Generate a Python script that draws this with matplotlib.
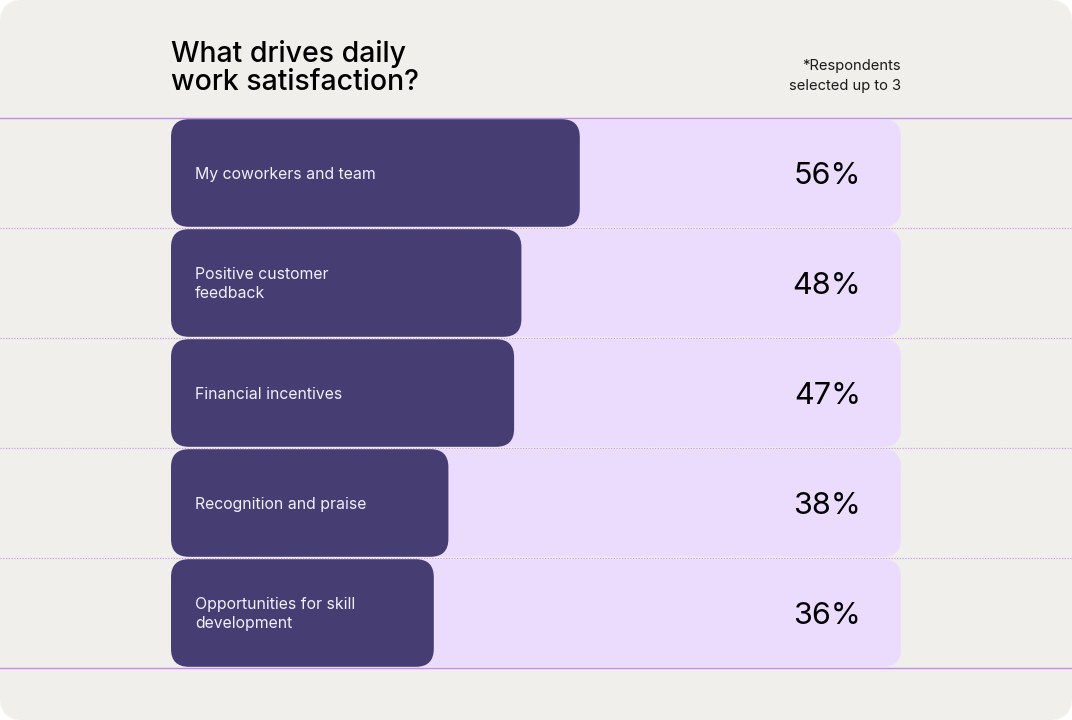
import matplotlib.pyplot as plt
from matplotlib.patches import FancyBboxPatch

categories = ["My coworkers and team", "Positive customer\nfeedback", "Financial incentives",
              "Recognition and praise", "Opportunities for skill\ndevelopment"]
values = [56, 48, 47, 38, 36]
value_labels = ["56%", "48%", "47%", "38%", "36%"]

W, H = 1072, 720
bg = '#f0efeb'
dark = '#463d72'
light = '#ebdcfe'
line_col = '#c58af0'

plt.rcParams['font.family'] = ['Inter', 'DejaVu Sans']

fig = plt.figure(figsize=(W / 100, H / 100), dpi=100)
fig.patch.set_facecolor('white')

# rounded card background
card = FancyBboxPatch((0, 0), 1, 1, boxstyle="round,pad=0,rounding_size=0.021",
                      mutation_aspect=W / H, transform=fig.transFigure,
                      facecolor=bg, edgecolor='none', zorder=0)
fig.patches.append(card)

left, right, top, bottom = 171, 901, 118, 668
n = len(values)
px_x = (right - left) / 100.0
px_y = (bottom - top) / n

# separator lines across the full width
lax = fig.add_axes([0, 0, 1, 1])
lax.set_xlim(0, W)
lax.set_ylim(H, 0)
lax.axis('off')
lax.patch.set_alpha(0)
lax.set_zorder(1)
for k in range(n + 1):
    yy = top + k * px_y
    if k == 0 or k == n:
        lax.axhline(yy, color=line_col, lw=1.0)
    else:
        lax.axhline(yy, color=line_col, lw=0.9, ls=(0, (1, 1.2)), alpha=0.85)

# bar area
ax = fig.add_axes([left / W, 1 - bottom / H, (right - left) / W, (bottom - top) / H])
ax.set_xlim(0, 100)
ax.set_ylim(n, 0)
ax.axis('off')
ax.patch.set_alpha(0)
ax.set_zorder(2)

rad = 18 / px_x
aspect = px_x / px_y
gap = 1.2 / px_y

for i, (cat, v, lab) in enumerate(zip(categories, values, value_labels)):
    y0 = i + gap
    h = 1 - 2 * gap
    ax.add_patch(FancyBboxPatch((0, y0), 100, h, boxstyle=f"round,pad=0,rounding_size={rad}",
                                mutation_aspect=aspect, facecolor=light, edgecolor='none', zorder=1))
    ax.add_patch(FancyBboxPatch((0, y0), v, h, boxstyle=f"round,pad=0,rounding_size={rad}",
                                mutation_aspect=aspect, facecolor=dark, edgecolor='none', zorder=2))
    ax.text(24 / px_x, i + 0.51, cat, color='#f3efff', fontsize=11.4, va='center', ha='left',
            linespacing=1.3, zorder=3)
    ax.text(94.5, i + 0.53, lab, color='black', fontsize=22, va='center', ha='right', zorder=3)

fig.text(171 / W, 1 - 68 / H, "What drives daily\nwork satisfaction?", fontsize=20.5,
         fontweight='medium', color='black', ha='left', va='center', linespacing=1.08)
fig.text(901 / W, 1 - 76 / H, "*Respondents\nselected up to 3", fontsize=10.6,
         color='#1a1a1a', ha='right', va='center', linespacing=1.5)

fig.savefig('out.png', dpi=100, facecolor='white')
